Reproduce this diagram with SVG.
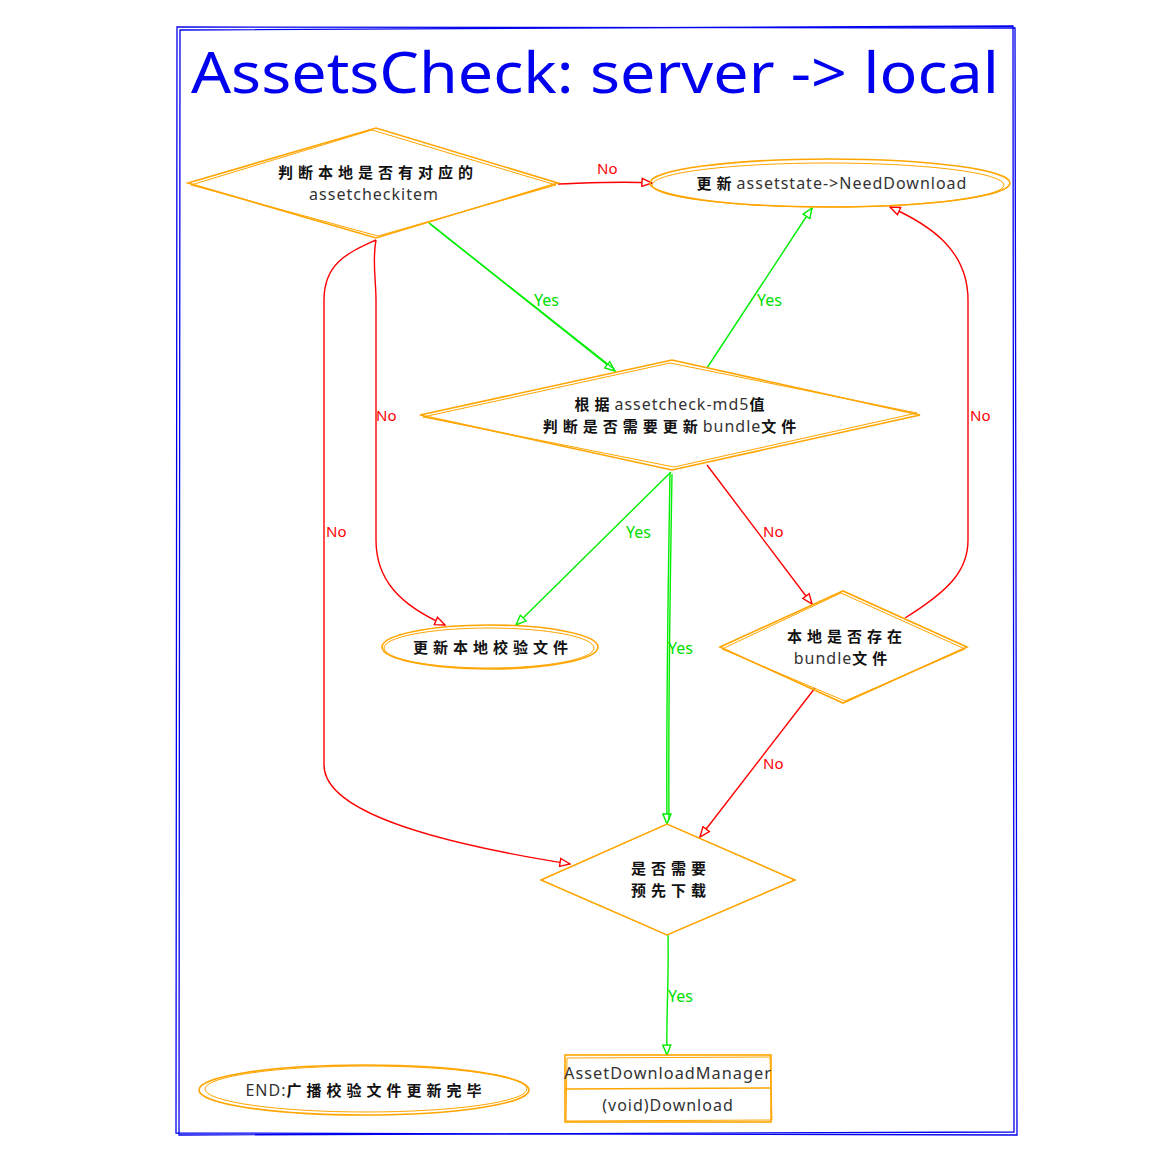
<svg xmlns="http://www.w3.org/2000/svg" width="1172" height="1163" viewBox="0 0 1172 1163">
<style>
.frame{fill:none;stroke:#0000ee;stroke-width:1.3}
.shape{fill:none;stroke:#FFA500;stroke-width:1.6}
.shape2{fill:none;stroke:#FFA500;stroke-width:1}
.red{fill:none;stroke:#ff0000;stroke-width:1.4}
.green{fill:none;stroke:#00ee00;stroke-width:1.4}
.zh{font-family:"Noto Sans CJK SC","Noto Sans",sans-serif;font-weight:bold;font-size:15px;fill:#111;letter-spacing:5px}
.lat{font-family:"Noto Sans","DejaVu Sans",sans-serif;font-weight:normal;font-size:16px;fill:#333;letter-spacing:1px}
.lr{font-family:"Noto Sans",sans-serif;font-size:15px;fill:#ff0000}
.lg{font-family:"Noto Sans",sans-serif;font-size:16px;fill:#00dd00}
</style>
<defs>
<marker id="ar" viewBox="0 0 12 10" refX="11" refY="5" markerWidth="12" markerHeight="10" markerUnits="userSpaceOnUse" orient="auto">
<path d="M1,1 L11,5 L1,9 Z" fill="#fff" stroke="#ff0000" stroke-width="1.4"/>
</marker>
<marker id="ag" viewBox="0 0 12 10" refX="11" refY="5" markerWidth="12" markerHeight="10" markerUnits="userSpaceOnUse" orient="auto">
<path d="M1,1 L11,5 L1,9 Z" fill="#fff" stroke="#00ee00" stroke-width="1.4"/>
</marker>
</defs>
<rect width="1172" height="1163" fill="#fff"/>
<g id="frame">
<path class="frame" d="M177,27 L1015,28 L1017,1135 L176,1133 Z"/>
<path class="frame" d="M180,30 L1013,26 L1014,1132 L179,1135 Z"/>
<text x="595" y="93" text-anchor="middle" font-family="Noto Sans, DejaVu Sans, sans-serif" font-size="56" fill="#0000ee" textLength="808" lengthAdjust="spacingAndGlyphs">AssetsCheck: server -&gt; local</text>
</g>
<g id="connectors">
<path class="red" d="M558,184 C590,183 620,181 652,183" marker-end="url(#ar)"/>
<text class="lr" x="597" y="174">No</text>
<path class="green" d="M428,222 L615,371" marker-end="url(#ag)"/>
<path class="green" d="M430,224 L614,369" stroke-width="0.7"/>
<text class="lg" x="534" y="306">Yes</text>
<path class="green" d="M707,368 L812,208" marker-end="url(#ag)"/>
<text class="lg" x="757" y="306">Yes</text>
<path class="red" d="M905,618 C950,590 968,570 968,540 L968,300 C968,250 930,225 890,207" marker-end="url(#ar)"/>
<text class="lr" x="970" y="421">No</text>
<path class="red" d="M376,240 C372,260 376,280 376,300 L376,540 C376,580 400,605 445,625" marker-end="url(#ar)"/>
<text class="lr" x="376" y="421">No</text>
<path class="red" d="M376,240 C350,252 324,262 324,300 L324,765 C324,815 450,845 570,864" marker-end="url(#ar)"/>
<text class="lr" x="326" y="537">No</text>
<path class="green" d="M671,472 L516,625" marker-end="url(#ag)"/>
<text class="lg" x="626" y="538">Yes</text>
<path class="green" d="M670,472 C668,600 666,700 667,824" marker-end="url(#ag)"/>
<path class="green" d="M672,474 C670,600 668,700 669,820" stroke-width="0.7"/>
<text class="lg" x="668" y="654">Yes</text>
<path class="red" d="M707,465 L812,604" marker-end="url(#ar)"/>
<text class="lr" x="763" y="537">No</text>
<path class="red" d="M815,688 L700,837" marker-end="url(#ar)"/>
<text class="lr" x="763" y="769">No</text>
<path class="green" d="M668,935 C669,980 666,1020 667,1055" marker-end="url(#ag)"/>
<text class="lg" x="668" y="1002">Yes</text>
</g>
<g id="n1">
<path class="shape" d="M188,183 L376,128 L558,183 L376,238 Z"/>
<path class="shape2" d="M191,185 L372,130 L556,185 L378,236 Z"/>
<text class="zh" x="378" y="178" text-anchor="middle">判断本地是否有对应的</text>
<text class="lat" x="374" y="200" text-anchor="middle">assetcheckitem</text>
</g>
<g id="n2">
<ellipse class="shape" cx="830" cy="183" rx="180" ry="24"/>
<ellipse class="shape2" cx="828" cy="185" rx="176" ry="22"/>
<text x="832" y="189" text-anchor="middle"><tspan class="zh">更新</tspan><tspan class="lat">assetstate-&gt;NeedDownload</tspan></text>
</g>
<g id="n3">
<path class="shape" d="M420,415 L672,360 L920,415 L672,470 Z"/>
<path class="shape2" d="M423,417 L670,363 L917,413 L674,467 Z"/>
<text x="672" y="410" text-anchor="middle"><tspan class="zh">根据</tspan><tspan class="lat">assetcheck-md5</tspan><tspan class="zh">值</tspan></text>
<text x="672" y="432" text-anchor="middle"><tspan class="zh">判断是否需要更新</tspan><tspan class="lat">bundle</tspan><tspan class="zh">文件</tspan></text>
</g>
<g id="n4">
<ellipse class="shape" cx="490" cy="647" rx="108" ry="22"/>
<ellipse class="shape2" cx="489" cy="648" rx="105" ry="20"/>
<text class="zh" x="493" y="653" text-anchor="middle">更新本地校验文件</text>
</g>
<g id="n5">
<path class="shape" d="M720,647 L843,591 L967,647 L843,703 Z"/>
<path class="shape2" d="M722,649 L841,593 L965,649 L845,701 Z"/>
<text class="zh" x="847" y="642" text-anchor="middle">本地是否存在</text>
<text x="843" y="664" text-anchor="middle"><tspan class="lat">bundle</tspan><tspan class="zh">文件</tspan></text>
</g>
<g id="n6">
<path class="shape" d="M541,880 L667,824 L795,880 L667,935 Z"/>
<text class="zh" x="671" y="874" text-anchor="middle">是否需要</text>
<text class="zh" x="671" y="896" text-anchor="middle">预先下载</text>
</g>
<g id="n7">
<rect class="shape" x="565" y="1055" width="206" height="67"/>
<path class="shape2" d="M567,1058 L770,1057 L772,1120 L566,1121 Z"/>
<line class="shape" x1="565" y1="1089" x2="771" y2="1088"/>
<text class="lat" x="668" y="1079" text-anchor="middle" textLength="208" lengthAdjust="spacingAndGlyphs">AssetDownloadManager</text>
<text class="lat" x="668" y="1111" text-anchor="middle">(void)Download</text>
</g>
<g id="n8">
<ellipse class="shape" cx="364" cy="1090" rx="165" ry="25"/>
<ellipse class="shape2" cx="366" cy="1089" rx="161" ry="23"/>
<text x="366" y="1096" text-anchor="middle"><tspan class="lat">END:</tspan><tspan class="zh">广播校验文件更新完毕</tspan></text>
</g>
</svg>
